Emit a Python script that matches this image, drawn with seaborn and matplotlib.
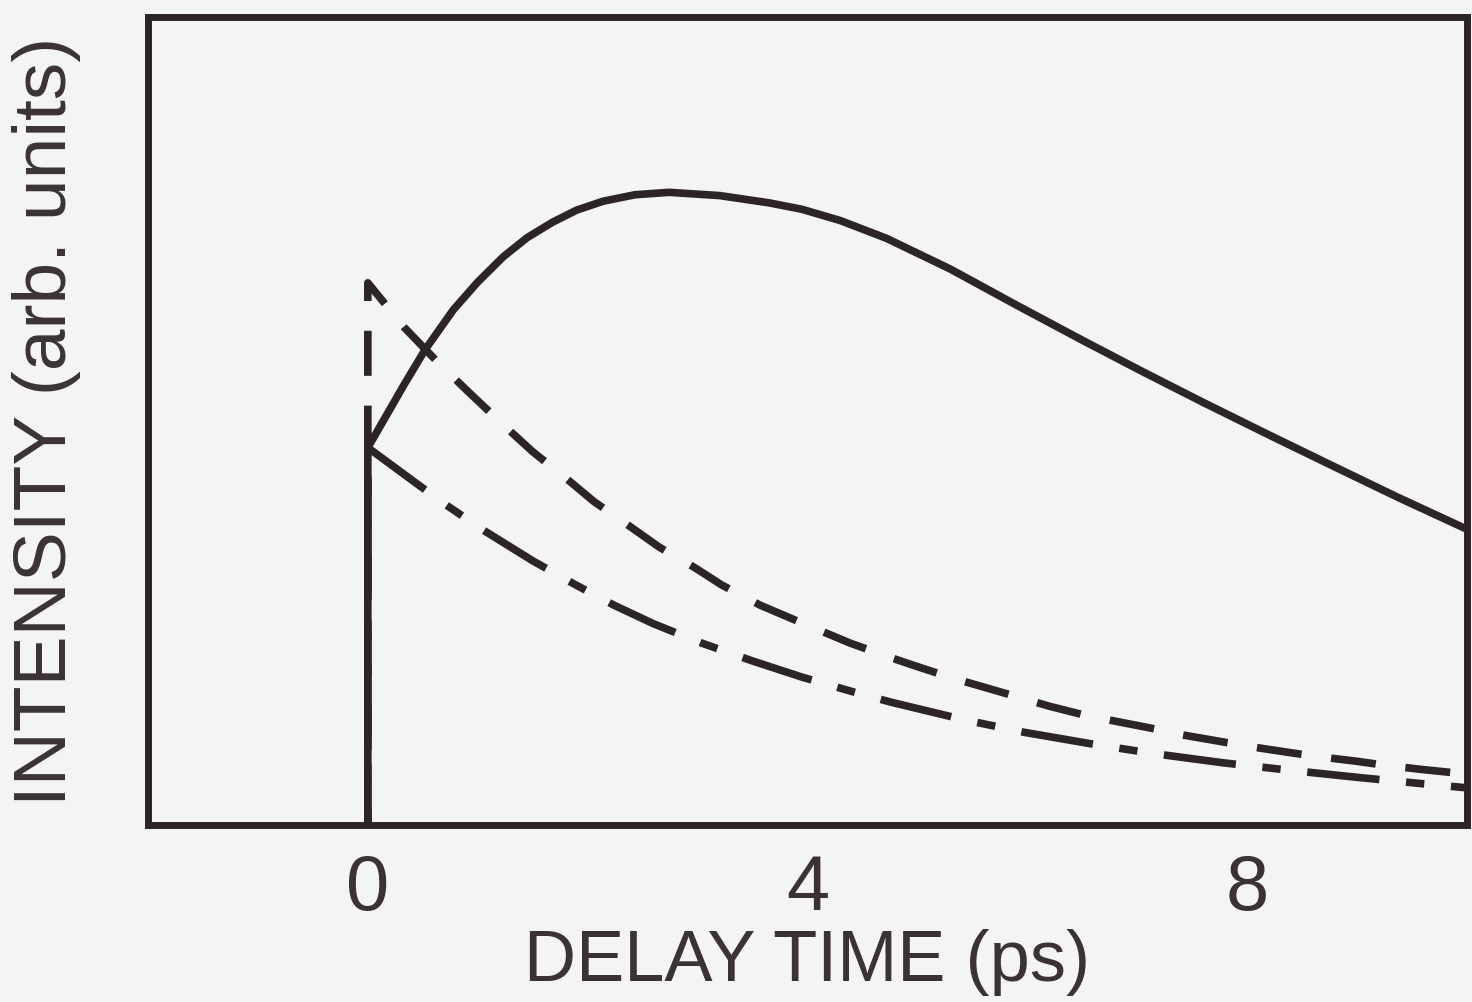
import matplotlib
matplotlib.use("Agg")
import matplotlib.pyplot as plt
import numpy as np
import pandas as pd
import seaborn as sns

# ---- data ----
solid_t = [0, 0, 0.33, 0.52, 0.78, 1.0, 1.23, 1.45, 1.68, 1.9, 2.14, 2.43, 2.74, 3.2,
           3.65, 3.95, 4.3, 4.72, 5.3, 5.88, 6.5, 7.05, 7.6, 8.21, 8.8, 9.38, 10]
solid_i = [0, 0.467, 0.545, 0.588, 0.638, 0.672, 0.703, 0.727, 0.746, 0.761, 0.772, 0.780,
           0.783, 0.779, 0.770, 0.762, 0.748, 0.726, 0.688, 0.645, 0.600, 0.561, 0.523,
           0.482, 0.443, 0.405, 0.366]

dashed_t = [0, 0, 0.33, 0.62, 0.9, 1.25, 1.5, 1.84, 2.06, 2.39, 2.65, 2.98, 3.22, 3.57,
            3.95, 4.39, 4.76, 5.0, 5.34, 5.57, 5.95, 6.2, 6.52, 6.78, 7.12, 7.39, 7.73,
            7.98, 8.37, 8.62, 8.99, 9.2, 9.57, 10]
dashed_i = [0, 0.671, 0.616, 0.575, 0.538, 0.493, 0.462, 0.425, 0.40, 0.369, 0.344, 0.318,
            0.297, 0.272, 0.250, 0.225, 0.207, 0.196, 0.181, 0.172, 0.157, 0.147, 0.136,
            0.129, 0.120, 0.112, 0.104, 0.098, 0.090, 0.085, 0.079, 0.075, 0.069, 0.063]

dashdot_t = [0, 0, 0.67, 1.05, 1.5, 1.88, 2.24, 2.6, 3.04, 3.5, 3.95, 4.41, 4.76, 5.4,
             5.96, 6.6, 7.17, 7.78, 8.37, 9.0, 9.6, 10]
dashdot_i = [0, 0.467, 0.40, 0.365, 0.327, 0.298, 0.272, 0.249, 0.225, 0.203, 0.183, 0.165,
             0.152, 0.131, 0.115, 0.100, 0.088, 0.077, 0.068, 0.059, 0.051, 0.046]

xtick_pos = [0, 2, 4, 6, 8]
xtick_labels = ["0", "", "4", "", "8"]
xlabel = "DELAY TIME (ps)"
ylabel = "INTENSITY (arb. units)"

# ---- style ----
sns.set_theme(style="white")
plt.rcParams["font.family"] = ["Liberation Sans", "DejaVu Sans"]

bg = "#f4f3f6"
ink = "#2c2428"
txt = "#3a3237"

W, H = 1472, 1002
fig = plt.figure(figsize=(W / 100, H / 100), dpi=100, facecolor=bg)
ax = fig.add_axes([148 / W, (H - 825) / H, (1467 - 148) / W, (825 - 17) / H])
ax.set_facecolor(bg)

lw = 5.5
sns.lineplot(x=solid_t, y=solid_i, estimator=None, sort=False, ax=ax,
             color=ink, linewidth=lw, linestyle="-")
sns.lineplot(x=dashed_t, y=dashed_i, estimator=None, sort=False, ax=ax,
             color=ink, linewidth=lw, linestyle=(0, (5.9, 3.9)))
sns.lineplot(x=dashdot_t, y=dashdot_i, estimator=None, sort=False, ax=ax,
             color=ink, linewidth=lw, linestyle=(7.5, (9.5, 3.5, 2.4, 3.5)))
for ln in ax.lines:
    ln.set_dash_capstyle("butt")
    ln.set_solid_capstyle("butt")
    ln.set_solid_joinstyle("round")
    ln.set_dash_joinstyle("round")

ax.set_xlim(-2, 10)
ax.set_ylim(0, 1)

ax.set_xticks(xtick_pos)
ax.set_xticklabels(xtick_labels)
ax.set_yticks([])
ax.tick_params(axis="x", direction="in", length=16, width=2.2, color=ink,
               pad=20, labelsize=56, labelcolor=txt)

for s in ax.spines.values():
    s.set_visible(True)
    s.set_linewidth(5)
    s.set_color(ink)

ax.set_xlabel(xlabel, fontsize=52, color=txt, labelpad=2)
ax.set_ylabel(ylabel, fontsize=54, color=txt, labelpad=48)

fig.savefig("out.png", dpi=100, facecolor=bg)
